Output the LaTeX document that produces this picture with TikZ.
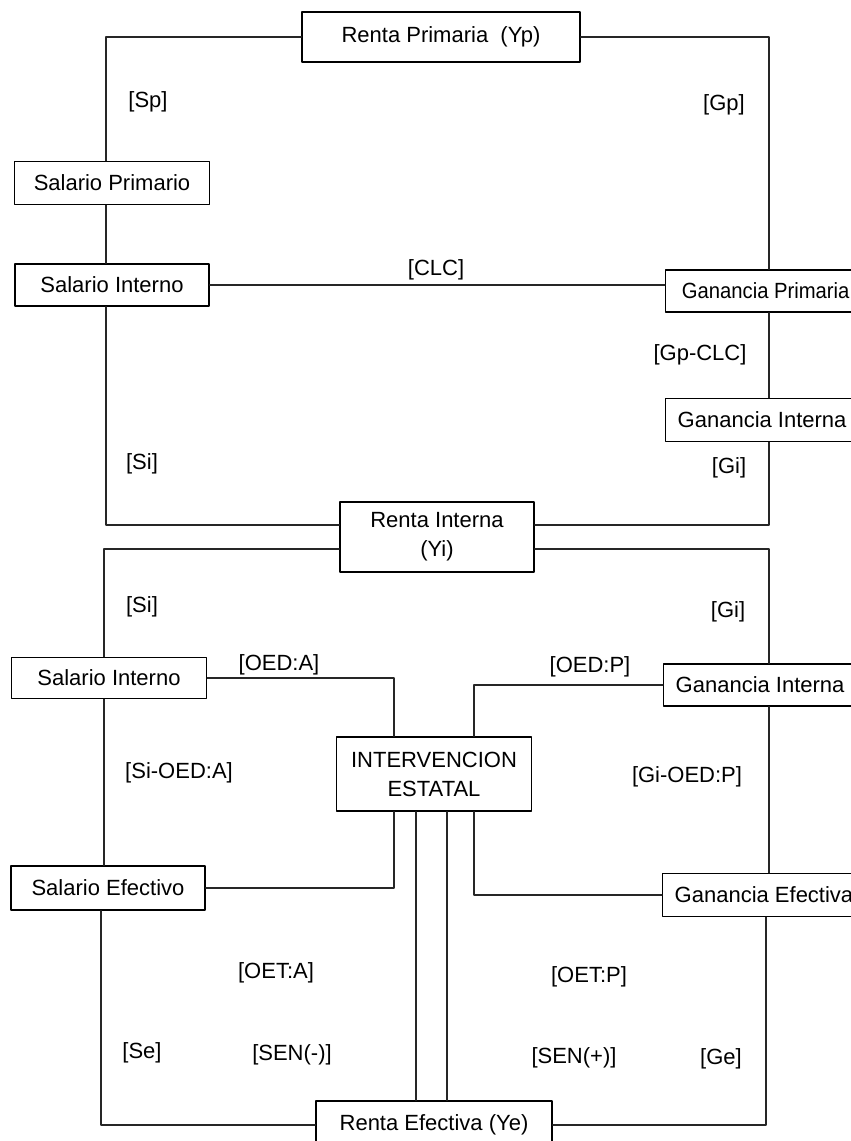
\documentclass[tikz,border=0pt]{standalone}
\usepackage{fontspec}
\setmainfont{Liberation Sans}
\begin{document}
\begin{tikzpicture}[x=0.5pt,y=-0.5pt,line join=round,line cap=round,
	font=\fontsize{11}{14.5}\selectfont,
	caja/.style={draw,line width=0.7pt,inner sep=0pt,align=center},
	cajad/.style={caja,anchor=west,inner xsep=6pt},
	linea/.style={line width=0.6pt,black!85}]
	\useasboundingbox (0,0) rectangle (851,1141);
	\clip (0,0) rectangle (851,1141);
	%columnas de las lineas
	\coordinate (izq1) at (106,0);
	\coordinate (izq2) at (104,0);
	\coordinate (izq3) at (101,0);
	\coordinate (der1) at (769,0);
	\coordinate (der2) at (766,0);
	\coordinate (ie1) at (394,0);
	\coordinate (ie2) at (416,0);
	\coordinate (ie3) at (447,0);
	\coordinate (ie4) at (474,0);
	%Cajas
	\node[caja,minimum width=139pt,minimum height=25pt] (rp) at (441,37) {Renta Primaria~~(Yp)};
	\node[caja,minimum width=97.5pt,minimum height=21.5pt] (sp) at (112,183) {Salario Primario};
	\node[caja,minimum width=97pt,minimum height=21pt] (si1) at (112,285) {Salario Interno};
	\node[cajad,minimum height=21pt,minimum width=100pt] (gp) at (665,291) {\addfontfeature{FakeStretch=0.92}Ganancia Primaria};
	\node[cajad,minimum height=21.5pt] (gi1) at (665,420) {Ganancia Interna};
	\node[caja,minimum width=97pt,minimum height=35pt] (ri) at (437,537) {Renta Interna\\(Yi)};
	\node[caja,minimum width=97.5pt,minimum height=20.5pt] (si2) at (109,678) {Salario Interno};
	\node[cajad,minimum height=21pt] (gi2) at (663,685) {Ganancia Interna};
	\node[caja,minimum width=97.5pt,minimum height=37pt] (ie) at (434,774) {INTERVENCION\\ESTATAL};
	\node[caja,minimum width=97pt,minimum height=22pt] (se) at (108,888) {Salario Efectivo};
	\node[cajad,minimum height=21.5pt] (ge) at (662,895) {Ganancia Efectiva};
	\node[caja,minimum width=118pt,minimum height=24pt] (re) at (434,1125) {Renta Efectiva (Ye)};
	%Lineas
	\draw[linea] (rp.west) -| (sp.north -| izq1);
	\draw[linea] (rp.east) -| (gp.north -| der1);
	\draw[linea] (sp.south -| izq1) -- (si1.north -| izq1);
	\draw[linea] (si1.east) -- (si1.east -| gp.west);
	\draw[linea] (gp.south -| der1) -- (gi1.north -| der1);
	\draw[linea] (si1.south -| izq1) |- (ri.173);
	\draw[linea] (gi1.south -| der1) |- (ri.7);
	\draw[linea] (ri.187) -| (si2.north -| izq2);
	\draw[linea] (ri.353) -| (gi2.north -| der1);
	\draw[linea] (si2.east) -| (ie.north -| ie1);
	\draw[linea] (gi2.west) -| (ie.north -| ie4);
	\draw[linea] (si2.south -| izq2) -- (se.north -| izq2);
	\draw[linea] (gi2.south -| der1) -- (ge.north -| der1);
	\draw[linea] (se.east) -| (ie.south -| ie1);
	\draw[linea] (ge.west) -| (ie.south -| ie4);
	\draw[linea] (ie.south -| ie2) -- (re.north -| ie2);
	\draw[linea] (ie.south -| ie3) -- (re.north -| ie3);
	\draw[linea] (se.south -| izq3) |- (re.west);
	\draw[linea] (ge.south -| der2) |- (re.east);
	%Etiquetas
	\node (lSp) at (148,102) {[Sp]};
	\node (lGp) at (724,105) {[Gp]};
	\node (lCLC) at (436,270) {[CLC]};
	\node (lGpCLC) at (700,355) {[Gp-CLC]};
	\node (lSi1) at (142,464) {[Si]};
	\node (lGi1) at (729,468) {[Gi]};
	\node (lSi2) at (142,607) {[Si]};
	\node (lGi2) at (728,612) {[Gi]};
	\node (lOEDA) at (279,665) {[OED:A]};
	\node (lOEDP) at (590,667) {[OED:P]};
	\node (lSiOED) at (179,773) {[Si-OED:A]};
	\node (lGiOED) at (687,777) {[Gi-OED:P]};
	\node (lOETA) at (276,973) {[OET:A]};
	\node (lOETP) at (589,977) {[OET:P]};
	\node (lSe) at (142,1053) {[Se]};
	\node (lSENm) at (292,1055) {[SEN(-)]};
	\node (lSENp) at (574,1058) {[SEN(+)]};
	\node (lGe) at (721,1059) {[Ge]};
\end{tikzpicture}
\end{document}
